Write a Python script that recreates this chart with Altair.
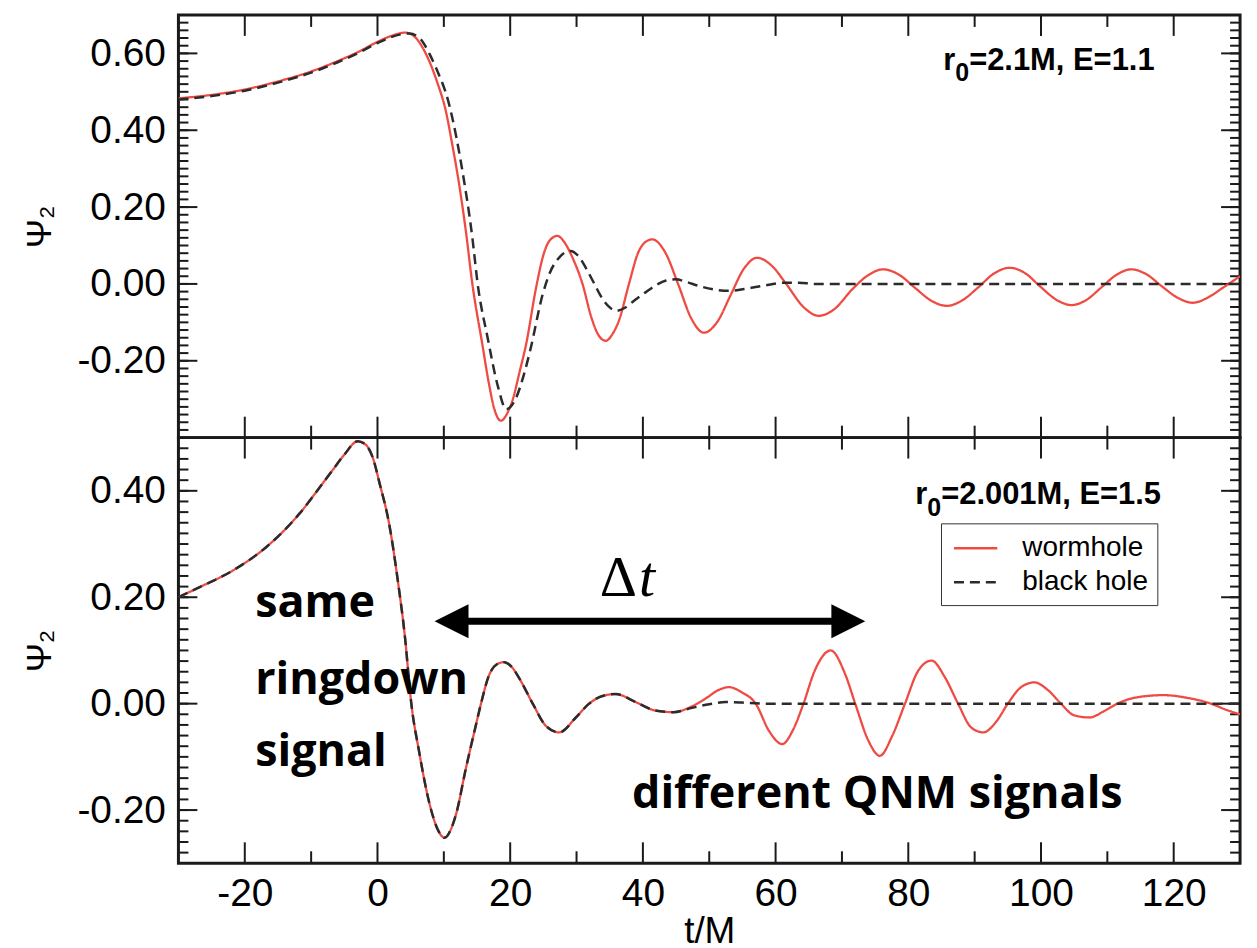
import altair as alt
import pandas as pd

# ---------------- axes / ticks ----------------
T_DOMAIN = [-30, 130]
TOP_PSI_DOMAIN = [-0.40, 0.70]
BOT_PSI_DOMAIN = [-0.30, 0.50]
X_MAJOR = [-20, 0, 20, 40, 60, 80, 100, 120]
X_MINOR = [-10, 10, 30, 50, 70, 90, 110]
TOP_Y_MAJOR = [-0.20, 0.00, 0.20, 0.40, 0.60]
BOT_Y_MAJOR = [-0.20, 0.00, 0.20, 0.40]
TOP_Y_MINOR = [round(-0.38 + 0.02 * i, 2) for i in range(54)]
BOT_Y_MINOR = [round(-0.28 + 0.02 * i, 2) for i in range(39)]

SERIES = ["wormhole", "black hole"]

# ---------------- top panel: r0=2.1M, E=1.1 ----------------
TOP_T_WH = [-30, -25, -20, -15, -10, -6, -3, 0, 2, 4.2,
            5.5, 6.8, 7.8, 9.0, 10.3, 11.3, 12.3, 13.3, 14.3, 15.8,
            16.8, 17.6, 18.6, 19.6, 20.4, 21.4, 22.4, 23.9, 25.0, 25.9,
            27.1, 28.3, 29.4, 30.9, 32.2, 33.2, 34.4, 35.5, 36.4, 37.9,
            39.3, 40.3, 41.4, 43.4, 45.3, 47.3, 49.2, 51.2, 53.2, 55.2,
            57.2, 59.5, 61.6, 64.2, 66.5, 68.9, 71.5, 73.8, 76.2, 78.6,
            81.0, 83.4, 85.8, 88.2, 90.6, 92.9, 95.3, 97.6, 99.9, 102.3,
            104.6, 106.9, 109.1, 111.4, 113.6, 115.9, 118.2, 120.6, 122.9, 125.2,
            127.4, 130]
TOP_PSI_WH = [0.483, 0.492, 0.506, 0.527, 0.553, 0.580, 0.603, 0.630, 0.645, 0.654,
              0.645, 0.615, 0.580, 0.525, 0.450, 0.360, 0.260, 0.140, 0.000, -0.157,
              -0.260, -0.325, -0.356, -0.335, -0.300, -0.230, -0.157, -0.010, 0.075, 0.112,
              0.125, 0.105, 0.068, 0.000, -0.085, -0.130, -0.148, -0.128, -0.095, 0.000,
              0.082, 0.108, 0.116, 0.081, 0.000, -0.090, -0.127, -0.099, -0.030, 0.039,
              0.068, 0.046, 0.000, -0.060, -0.083, -0.065, -0.015, 0.021, 0.038, 0.024,
              -0.010, -0.043, -0.057, -0.042, -0.008, 0.027, 0.042, 0.028, -0.007, -0.041,
              -0.055, -0.041, -0.009, 0.024, 0.038, 0.025, -0.006, -0.036, -0.049, -0.035,
              -0.010, 0.020]

TOP_T_BH = [-30, -25, -20, -15, -10, -6, -3, 0, 2, 4.8,
            6.5, 7.8, 8.8, 10.8, 12.8, 14.3, 15.1, 16.6, 18.2, 19.4,
            20.9, 22.0, 23.0, 24.9, 26.0, 27.2, 28.2, 29.1, 30.3, 31.4,
            32.6, 33.6, 34.8, 36.0, 37.3, 38.8, 40.4, 42.0, 43.5, 44.9,
            46.6, 48.4, 50.6, 52.9, 55.0, 57.0, 59.0, 61.0, 63.5, 66.0,
            80.0, 100.0, 130.0]
TOP_PSI_BH = [0.480, 0.489, 0.503, 0.524, 0.550, 0.577, 0.600, 0.627, 0.642, 0.652,
              0.637, 0.600, 0.563, 0.467, 0.294, 0.120, 0.000, -0.140, -0.270, -0.326,
              -0.296, -0.240, -0.174, -0.027, 0.030, 0.065, 0.081, 0.086, 0.072, 0.042,
              0.003, -0.030, -0.058, -0.070, -0.062, -0.042, -0.022, -0.003, 0.009, 0.012,
              0.005, -0.005, -0.014, -0.018, -0.014, -0.008, -0.002, 0.003, 0.003, 0.000,
              0.000, 0.000, 0.000]

# ---------------- bottom panel: r0=2.001M, E=1.5 ----------------
BOT_T_WH = [-30, -26.8, -21.7, -16.7, -11.7, -8.5, -6.7, -5.0, -3.0, -1.8,
            -0.7, 0.3, 1.8, 3.1, 4.1, 5.1, 6.3, 7.8, 9.1, 10.1,
            11.1, 11.9, 13.3, 14.8, 15.6, 16.8, 18.0, 19.1, 20.3, 21.4,
            23.4, 25.4, 27.4, 29.9, 31.9, 33.8, 35.9, 38.9, 41.9, 44.6,
            47.4, 49.5, 51.3, 53.0, 54.8, 57.0, 59.0, 61.0, 62.6, 64.2,
            65.9, 68.3, 70.5, 72.0, 74.0, 75.7, 77.6, 79.5, 81.5, 83.5,
            85.5, 87.5, 89.5, 91.3, 93.3, 95.0, 97.0, 99.0, 101.0, 103.0,
            105.0, 107.3, 109.5, 111.5, 114.5, 118.5, 122.0, 125.6, 128.0, 130.0]
BOT_PSI_WH = [0.200, 0.219, 0.251, 0.295, 0.358, 0.410, 0.440, 0.468, 0.493, 0.487,
              0.462, 0.415, 0.335, 0.228, 0.130, 0.000, -0.092, -0.186, -0.237, -0.252,
              -0.235, -0.205, -0.123, -0.042, 0.000, 0.053, 0.074, 0.078, 0.068, 0.047,
              0.000, -0.042, -0.054, -0.026, 0.000, 0.014, 0.018, 0.003, -0.013, -0.016,
              -0.005, 0.010, 0.025, 0.031, 0.022, 0.000, -0.051, -0.076, -0.050, 0.000,
              0.062, 0.100, 0.055, 0.000, -0.070, -0.098, -0.060, 0.000, 0.062, 0.081,
              0.050, 0.000, -0.045, -0.054, -0.033, 0.000, 0.031, 0.040, 0.026, 0.000,
              -0.022, -0.026, -0.014, 0.000, 0.012, 0.016, 0.011, 0.000, -0.012, -0.020]

# black hole follows the wormhole exactly up to t ~ 45, then settles to zero
BOT_T_BH = BOT_T_WH[:40] + [47.4, 50.0, 52.5, 55.0, 58.0, 70.0, 90.0, 110.0, 130.0]
BOT_PSI_BH = BOT_PSI_WH[:40] + [-0.008, -0.001, 0.003, 0.002, 0.000, 0.000, 0.000, 0.000, 0.000]

# ---------------- annotations ----------------
TOP_PARAM = {"r_t": 85.26, "sub_t": 87.07, "rest_t": 89.17, "psi": 0.557, "sub_psi": 0.529,
             "rest": "=2.1M, E=1.1"}
BOT_PARAM = {"r_t": 81.05, "sub_t": 82.86, "rest_t": 84.96, "psi": 0.376, "sub_psi": 0.352,
             "rest": "=2.001M, E=1.5"}
NOTE_T = [-18.43, -18.43, -18.43, 38.36]
NOTE_PSI = [0.163, 0.0185, -0.118, -0.197]
NOTE_TEXT = ["same", "ringdown", "signal", "different QNM signals"]
ARROW_T = [11.16, 70.96]
ARROW_PSI = 0.155
DELTA_T = 39.1
DELTA_PSI = 0.202

# ---------------- style ----------------
W = 1065
H_TOP = 424
H_BOT = 427
SANS = "Liberation Sans, Arial, Helvetica, sans-serif"
RED = "#ef4b43"
DARK = "#2b2b2b"
TICK = "#1a1a1a"

color_scale = alt.Scale(domain=SERIES, range=[RED, DARK])
dash_scale = alt.Scale(domain=SERIES, range=[[1, 0], [10, 6]])


def line_df(t, p, name):
    return pd.DataFrame({"t": t, "psi": p, "series": name})


def make_panel(t_wh, p_wh, t_bh, p_bh, psi_domain, y_major, y_minor, height, is_bottom, param):
    xsc = alt.Scale(domain=T_DOMAIN, nice=False, zero=False)
    ysc = alt.Scale(domain=psi_domain, nice=False, zero=False)
    if is_bottom:
        xaxis = alt.Axis(values=X_MAJOR, labelExpr="replace(datum.label, '\u2212', '-')",
                         ticks=False, domain=False, grid=False, labelFontSize=39,
                         labelPadding=11, labelFlush=False, title="t/M", titleFontSize=37,
                         titleFontWeight="normal", titlePadding=0)
    else:
        xaxis = None
    yaxis = alt.Axis(values=y_major,
                     labelExpr="replace(format(datum.value, '.2f'), '\u2212', '-')",
                     ticks=False, domain=False, grid=False, labelFontSize=39, labelPadding=13,
                     title="Ψ₂", titleFont="Liberation Sans, DejaVu Sans", titleFontSize=35,
                     titleFontWeight="normal", titleAngle=270, titleX=-128, titleY=height / 2,
                     titleAlign="center", titleBaseline="alphabetic")
    X = alt.X("t:Q", scale=xsc, axis=xaxis)
    Y = alt.Y("psi:Q", scale=ysc, axis=yaxis)

    if is_bottom:
        leg = alt.Legend(title=None, orient="none", legendX=765, legendY=86, padding=8.5,
                         rowPadding=3, labelFontSize=28, labelFont=SANS, labelColor="black",
                         labelOffset=40, symbolType="M-0.8,0L2.1,0", symbolSize=900,
                         symbolStrokeWidth=2.5, strokeColor="#333333", fillColor="white",
                         labelLimit=0)
    else:
        leg = None
    C = alt.Color("series:N", scale=color_scale, legend=leg)
    D = alt.StrokeDash("series:N", scale=dash_scale, legend=leg)

    layers = []
    # ticks on all four borders, pointing inward
    for vals, ln in ((X_MAJOR, 21), (X_MINOR, 12)):
        d = pd.DataFrame({"t": vals})
        layers.append(alt.Chart(d).mark_rule(color=TICK, strokeWidth=2).encode(
            x=X, y=alt.value(0), y2=alt.value(ln)))
        layers.append(alt.Chart(d).mark_rule(color=TICK, strokeWidth=2).encode(
            x=X, y=alt.value(height), y2=alt.value(height - ln)))
    for vals, ln in ((y_minor, 10), (y_major, 19)):
        d = pd.DataFrame({"psi": vals})
        layers.append(alt.Chart(d).mark_rule(color=TICK, strokeWidth=2).encode(
            y=Y, x=alt.value(0), x2=alt.value(ln)))
        layers.append(alt.Chart(d).mark_rule(color=TICK, strokeWidth=2).encode(
            y=Y, x=alt.value(W), x2=alt.value(W - ln)))

    layers.append(alt.Chart(line_df(t_wh, p_wh, "wormhole")).mark_line(
        interpolate="monotone", strokeWidth=2.3, clip=True).encode(x=X, y=Y, color=C, strokeDash=D))
    layers.append(alt.Chart(line_df(t_bh, p_bh, "black hole")).mark_line(
        interpolate="monotone", strokeWidth=2.5, clip=True).encode(x=X, y=Y, color=C, strokeDash=D))

    # parameter label r_0=..., E=...
    pr = pd.DataFrame({"t": [param["r_t"], param["rest_t"]], "psi": [param["psi"], param["psi"]],
                       "label": ["r", param["rest"]]})
    layers.append(alt.Chart(pr).mark_text(align="left", baseline="alphabetic", font=SANS,
                                          fontSize=31, fontWeight="bold", color="black").encode(
        x=X, y=Y, text="label:N"))
    ps = pd.DataFrame({"t": [param["sub_t"]], "psi": [param["sub_psi"]], "label": ["0"]})
    layers.append(alt.Chart(ps).mark_text(align="left", baseline="alphabetic", font=SANS,
                                          fontSize=25, fontWeight="bold", color="black").encode(
        x=X, y=Y, text="label:N"))

    if is_bottom:
        notes = pd.DataFrame({"t": NOTE_T, "psi": NOTE_PSI, "label": NOTE_TEXT})
        layers.append(alt.Chart(notes).mark_text(align="left", baseline="alphabetic",
                                                 font="Open Sans", fontSize=45, fontWeight="bold",
                                                 color="black").encode(x=X, y=Y, text="label:N"))
        arr = pd.DataFrame({"t": [ARROW_T[0]], "t2": [ARROW_T[1]], "psi": [ARROW_PSI]})
        layers.append(alt.Chart(arr).mark_rule(color="black", strokeWidth=7).encode(
            x=X, x2="t2:Q", y=Y))
        lh = pd.DataFrame({"t": [ARROW_T[0]], "psi": [ARROW_PSI]})
        rh = pd.DataFrame({"t": [ARROW_T[1]], "psi": [ARROW_PSI]})
        layers.append(alt.Chart(lh).mark_point(shape="M1,-1L-1,0L1,1Z", filled=True, size=1156,
                                               color="black", opacity=1, strokeWidth=0).encode(x=X, y=Y))
        layers.append(alt.Chart(rh).mark_point(shape="M-1,-1L1,0L-1,1Z", filled=True, size=1156,
                                               color="black", opacity=1, strokeWidth=0).encode(x=X, y=Y))
        dd = pd.DataFrame({"t": [DELTA_T], "psi": [DELTA_PSI], "label": ["Δ"]})
        layers.append(alt.Chart(dd).mark_text(align="right", baseline="alphabetic",
                                              font="Liberation Serif", fontSize=58,
                                              color="black").encode(x=X, y=Y, text="label:N"))
        dt = pd.DataFrame({"t": [DELTA_T + 0.3], "psi": [DELTA_PSI], "label": ["t"]})
        layers.append(alt.Chart(dt).mark_text(align="left", baseline="alphabetic",
                                              font="Liberation Serif", fontSize=58,
                                              fontStyle="italic", color="black").encode(
            x=X, y=Y, text="label:N"))

    return alt.layer(*layers).properties(width=W, height=height)


top = make_panel(TOP_T_WH, TOP_PSI_WH, TOP_T_BH, TOP_PSI_BH, TOP_PSI_DOMAIN,
                 TOP_Y_MAJOR, TOP_Y_MINOR, H_TOP, False, TOP_PARAM)
bottom = make_panel(BOT_T_WH, BOT_PSI_WH, BOT_T_BH, BOT_PSI_BH, BOT_PSI_DOMAIN,
                    BOT_Y_MAJOR, BOT_Y_MINOR, H_BOT, True, BOT_PARAM)

chart = alt.vconcat(top, bottom, spacing=0, bounds="flush").resolve_scale(
    x="independent", y="independent", color="independent", strokeDash="independent"
).resolve_legend(
    color="independent", strokeDash="independent"
).properties(
    padding={"left": 21, "top": 10.5, "right": 14, "bottom": 0},
    background="white",
).configure_view(
    stroke="#1a1a1a", strokeWidth=3
).configure_axis(
    labelFont=SANS, titleFont=SANS, labelColor="black", titleColor="black"
)

chart.save("out.html", embed_options={"renderer": "svg", "actions": False})
